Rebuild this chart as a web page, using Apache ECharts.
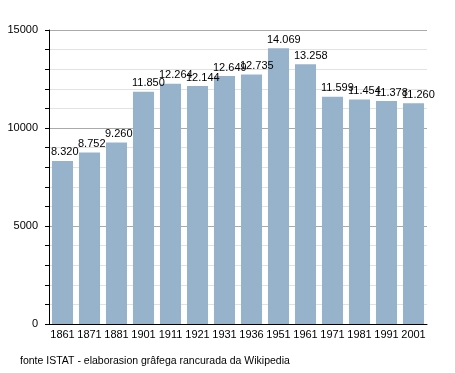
<!DOCTYPE html>
<html><head><meta charset="utf-8">
<script src="https://cdn.jsdelivr.net/npm/echarts@6/dist/echarts.min.js"></script>
<style>html,body{margin:0;padding:0;background:#fff}#c{width:455px;height:373px}</style>
</head><body><div id="c"></div>
<script>
const categories = ['1861','1871','1881','1901','1911','1921','1931','1936','1951','1961','1971','1981','1991','2001'];
const population = [8320, 8752, 9260, 11850, 12264, 12144, 12649, 12735, 14069, 13258, 11599, 11454, 11378, 11260];
const yTicks = [0, 5000, 10000, 15000];
const footer = 'fonte ISTAT - elaborasion grâfega rancurada da Wikipedia';

const fmt = v => String(v).replace(/\B(?=(\d{3})+(?!\d))/g, '.');
const font = '"Liberation Sans", Arial, sans-serif';
const chart = echarts.init(document.getElementById('c'), null, {renderer: 'canvas'});
chart.setOption({
  animation: false,
  backgroundColor: '#fff',
  grid: {left: 49, right: 28, top: 30, bottom: 49, containLabel: false},
  graphic: [{type: 'text', left: 20, top: 356, style: {text: footer, font: '10.5px ' + font, fill: '#000'}}],
  xAxis: {
    type: 'category', data: categories,
    axisLine: {lineStyle: {color: '#000', width: 1}},
    axisTick: {show: false},
    axisLabel: {color: '#000', fontFamily: font, fontSize: 11, margin: 5, interval: 0}
  },
  yAxis: {
    type: 'value', min: 0, max: 15000, interval: 1000,
    axisLine: {show: true, lineStyle: {color: '#000', width: 1}},
    axisTick: {show: true, length: 4, lineStyle: {color: '#000'}},
    axisLabel: {color: '#000', fontFamily: font, fontSize: 11, margin: 11,
      formatter: v => yTicks.indexOf(v) >= 0 ? String(v) : ''},
    splitLine: {show: true, lineStyle: {color: ['#aaaaaa', '#e2e2e2', '#e2e2e2', '#e2e2e2', '#e2e2e2'], width: 1}}
  },
  series: [{
    type: 'bar', data: population, barCategoryGap: '22%',
    itemStyle: {color: '#97b2cb'},
    label: {show: true, position: [-1, -3], align: 'left', verticalAlign: 'bottom',
      color: '#000', fontFamily: font, fontSize: 11, formatter: p => fmt(p.value)}
  }]
});
</script></body></html>
